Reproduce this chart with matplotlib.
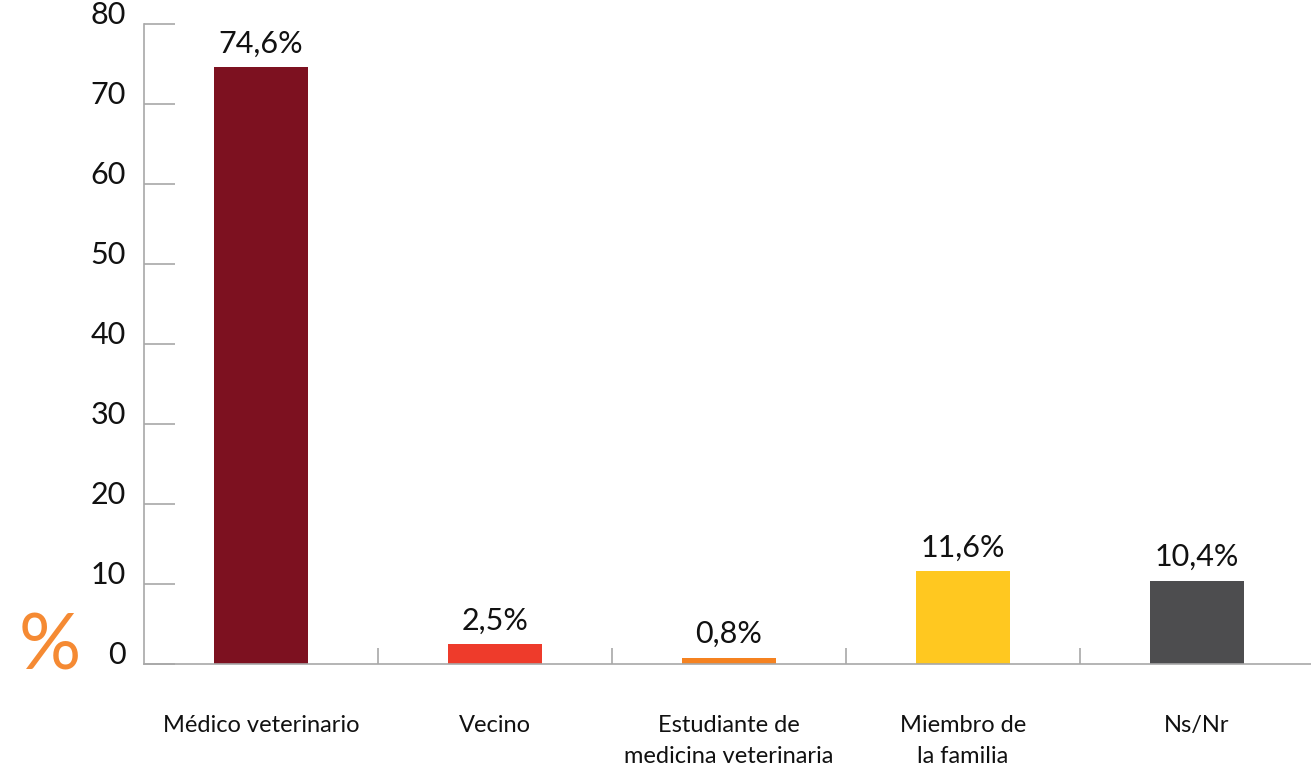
import numpy as np
import matplotlib.pyplot as plt

plt.rcParams['font.family'] = ['Lato', 'DejaVu Sans']

categories = ["Médico veterinario", "Vecino", "Estudiante de\nmedicina veterinaria",
              "Miembro de\nla familia", "Ns/Nr"]
values = [74.6, 2.5, 0.8, 11.6, 10.4]
value_labels = ["74,6%", "2,5%", "0,8%", "11,6%", "10,4%"]
colors = ["#7D1120", "#EE3B2B", "#F58220", "#FFC820", "#4D4D4F"]
yticks = [0, 10, 20, 30, 40, 50, 60, 70, 80]

axis_gray = "#A8A8A8"

fig = plt.figure(figsize=(13.11, 7.69), dpi=100)
ax = fig.add_axes([0.1098, 0.1365, 0.8925, 0.8323])

x = np.arange(len(categories))
bars = ax.bar(x, values, width=0.4, color=colors)
for xi, v, lab in zip(x, values, value_labels):
    ax.annotate(lab, (xi, v), xytext=(0, 7), textcoords="offset points",
                ha="center", va="bottom", fontsize=22, color="#111111")

ax.set_xlim(-0.5, 4.5)
ax.set_ylim(0, 80)
ax.set_yticks(yticks)
ax.set_xticks(x)
ax.set_xticklabels(categories, fontsize=17, color="#111111", va="top",
                   linespacing=1.55)
ax.set_xticks(x[:-1] + 0.5, minor=True)

ax.tick_params(axis="y", direction="in", length=22, width=1.2, color=axis_gray,
               pad=13, labelsize=22, labelcolor="#111111")
ax.tick_params(axis="x", which="major", length=0, pad=37)
ax.tick_params(axis="x", which="minor", direction="in", length=11.5, width=1.2,
               color=axis_gray)
plt.setp(ax.get_yticklabels(), va="baseline")

for side in ["top", "right"]:
    ax.spines[side].set_visible(False)
for side in ["left", "bottom"]:
    ax.spines[side].set_color(axis_gray)
    ax.spines[side].set_linewidth(1.2)

fig.text(0.038, 0.157, "%", fontsize=56, color="#F58A33", ha="center",
         va="center", fontweight="normal")

plt.savefig("out.png", dpi=100)
